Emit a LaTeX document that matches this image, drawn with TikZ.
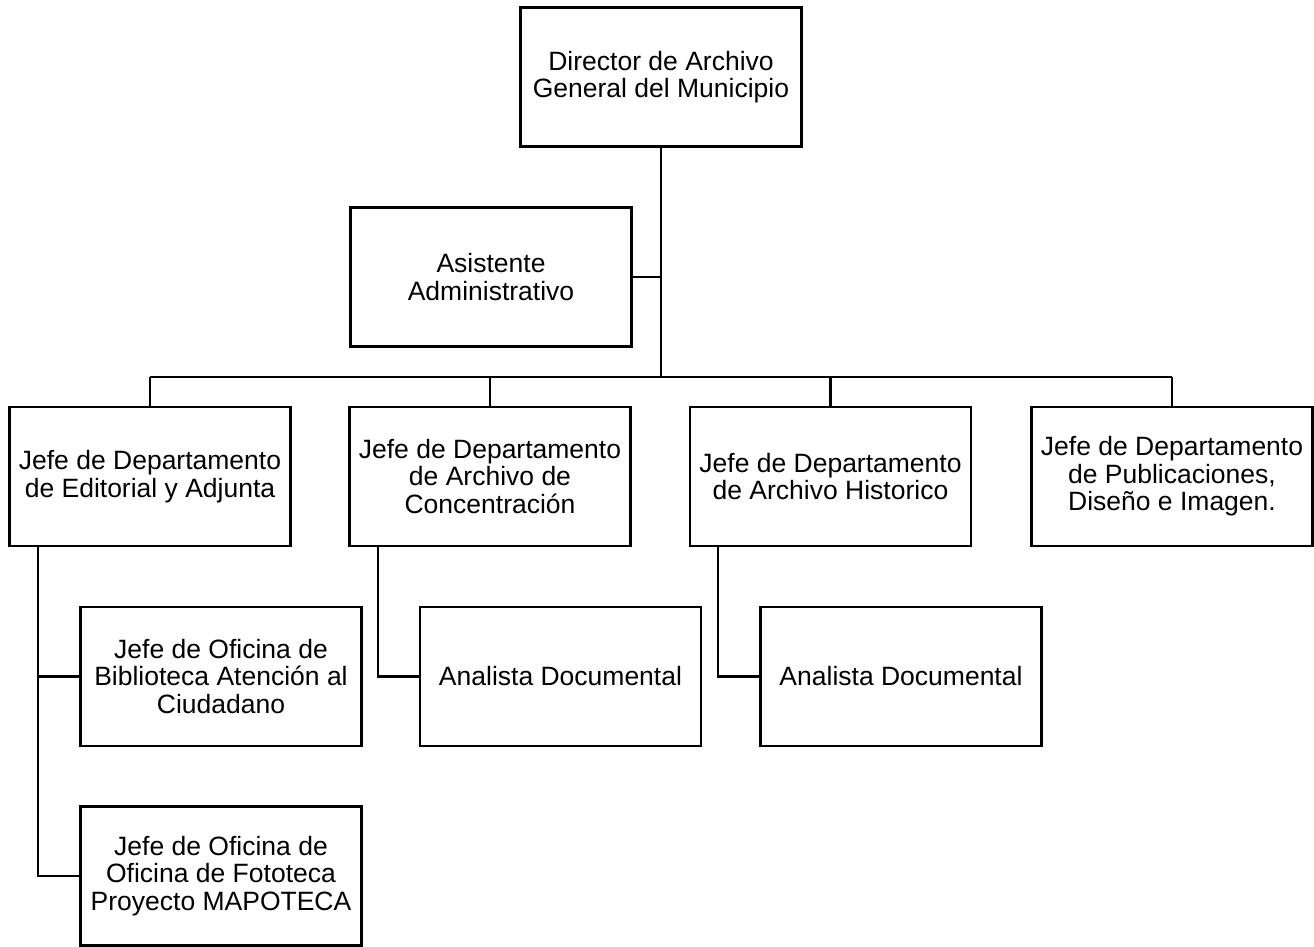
\documentclass[tikz,border=0pt]{standalone}
\usepackage{fontspec}
\setmainfont{Liberation Sans}
\usetikzlibrary{positioning}
\tikzset{
    cargo/.style={draw, line width=2.4pt, minimum width=281pt, minimum height=139pt,
        inner sep=0pt, align=center, font=\fontsize{26.5}{27.5}\selectfont},
    linea/.style={draw, line width=2.4pt}
}
\begin{document}
\begin{tikzpicture}[x=1pt, y=-1pt]
    \useasboundingbox (0,0) rectangle (1314,947);
    % Direccion
    \node[cargo] (dir) at (661,77) {Director de Archivo\\General del Municipio};
    \node[cargo] (asis) at (491,277) {Asistente\\Administrativo};
    % Departamentos
    \node[cargo] (edit) at (150,476.5) {Jefe de Departamento\\de Editorial y Adjunta};
    \node[cargo] (conc) at (490,476.5) {Jefe de Departamento\\de Archivo de\\Concentración};
    \node[cargo] (hist) at (830.5,476.5) {Jefe de Departamento\\de Archivo Historico};
    \node[cargo] (pub) at (1172,476.5) {Jefe de Departamento\\de Publicaciones,\\Diseño e Imagen.};
    % Oficinas
    \node[cargo] (bib) at (221,676.5) {Jefe de Oficina de\\Biblioteca Atención al\\Ciudadano};
    \node[cargo] (ana1) at (560.5,676.5) {Analista Documental};
    \node[cargo] (ana2) at (901,676.5) {Analista Documental};
    \node[cargo] (foto) at (221,876) {Jefe de Oficina de\\Oficina de Fototeca\\Proyecto MAPOTECA};
    % Tronco y barra
    \coordinate (bus) at (661,377);
    \draw[linea] (dir.south) -- (bus);
    \draw[linea] (asis.east) -- (asis.east -| bus);
    \draw[linea] (edit.north |- bus) -- (pub.north |- bus);
    \draw[linea] (edit.north) -- (edit.north |- bus)
                 (conc.north) -- (conc.north |- bus)
                 (hist.north) -- (hist.north |- bus)
                 (pub.north) -- (pub.north |- bus);
    % Ramas inferiores
    \coordinate (e1) at ([xshift=-112pt]edit.south);
    \coordinate (c1) at ([xshift=-112pt]conc.south);
    \coordinate (h1) at ([xshift=-112.5pt]hist.south);
    \draw[linea] (e1) |- (foto.west)
                 (bib.west) -- (bib.west -| e1);
    \draw[linea] (c1) |- (ana1.west);
    \draw[linea] (h1) |- (ana2.west);
\end{tikzpicture}
\end{document}
